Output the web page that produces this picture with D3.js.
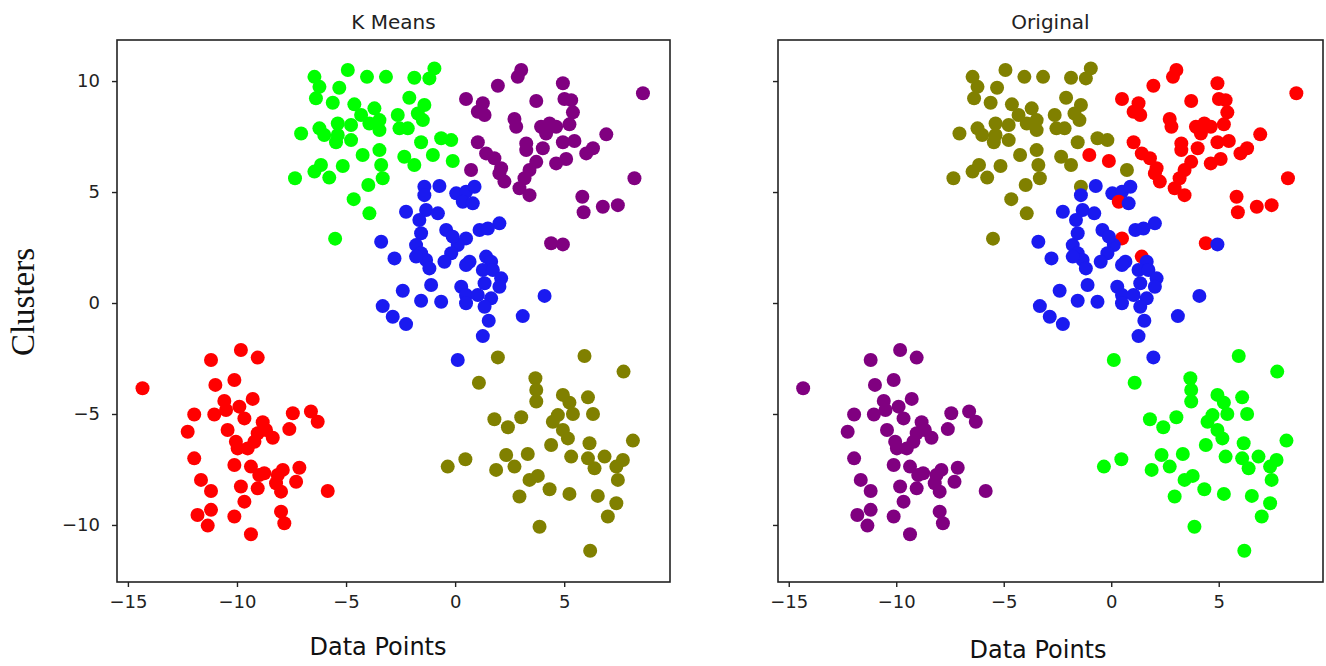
<!DOCTYPE html>
<html>
<head>
<meta charset="utf-8">
<script src="https://cdn.jsdelivr.net/npm/d3@7"></script>
<style>
  body { margin: 0; background: #fff; }
  svg { display: block; }
  .tick text { font-family: "DejaVu Sans", sans-serif; font-size: 18px; fill: #222; }
  .tick line { stroke: #222; stroke-width: 1.4; }
</style>
</head>
<body>
<svg width="1326" height="666"></svg>
<script>
// points of each K Means cluster, [x, y]
const greenPts = [[-6.45,10.19],[-4.92,10.5],[-4.04,10.19],[-3.17,10.19],[-1.87,10.15],[-0.95,10.57],[-1.18,10.12],[-6.22,9.74],[-5.31,9.7],[-6.38,9.22],[-5.61,9.02],[-4.62,8.95],[-3.7,8.77],[-4.31,8.47],[-2.1,9.25],[-1.41,8.92],[-1.71,8.54],[-2.63,8.47],[-1.48,8.24],[-5.38,8.09],[-4.77,8.02],[-3.93,8.09],[-3.47,8.24],[-3.47,7.79],[-7.06,7.64],[-6.22,7.87],[-6.0,7.57],[-5.38,7.57],[-2.55,7.87],[-2.17,7.87],[-5.46,7.24],[-4.77,7.34],[-4.24,6.67],[-3.47,6.89],[-1.56,7.24],[-0.64,7.42],[-0.18,7.34],[-2.33,6.59],[-1.87,6.22],[-1.02,6.67],[-0.11,6.4],[-3.39,6.22],[-5.15,6.17],[-6.15,6.22],[-6.45,5.92],[-5.77,5.65],[-7.34,5.62],[-3.32,5.62],[-3.98,5.32],[-4.65,4.68],[-3.93,4.04],[-5.5,2.9]];
const purplePts = [[3.03,10.5],[2.87,10.19],[1.96,9.79],[4.94,9.9],[8.61,9.45],[0.5,9.19],[1.27,9.0],[1.04,8.62],[1.35,8.47],[3.72,9.1],[5.01,9.19],[5.32,9.14],[5.4,8.59],[2.72,8.29],[2.8,7.94],[3.94,7.94],[4.33,8.09],[4.63,7.94],[4.17,7.64],[5.24,8.05],[6.93,7.6],[1.04,7.24],[3.26,7.19],[4.02,6.97],[4.94,7.24],[5.47,7.3],[6.32,6.97],[6.01,6.74],[1.42,6.74],[1.8,6.52],[3.26,6.89],[3.72,6.36],[4.63,6.29],[5.09,6.49],[0.73,5.99],[2.11,6.07],[2.26,5.47],[3.41,5.99],[3.18,5.62],[2.95,5.17],[3.41,4.86],[8.22,5.62],[5.83,4.79],[5.89,4.09],[6.77,4.34],[7.46,4.41],[4.4,2.69],[4.94,2.64],[2.03,5.84]];
const bluePts = [[-1.41,5.24],[-0.72,5.27],[-1.41,4.86],[0.05,4.94],[0.5,5.01],[0.89,5.24],[0.35,4.56],[0.81,4.49],[-2.25,4.11],[-1.33,4.19],[-0.79,4.04],[-1.64,3.74],[2.03,3.59],[-0.41,3.29],[-1.56,3.14],[1.12,3.29],[1.5,3.36],[-3.39,2.76],[0.5,2.91],[-1.79,2.61],[0.12,2.61],[-1.56,2.24],[-0.18,2.24],[-2.78,2.01],[-1.33,1.94],[-0.49,1.86],[0.66,1.86],[1.42,2.09],[1.65,1.86],[-1.18,1.56],[0.5,1.71],[1.27,1.49],[1.73,1.49],[2.11,1.11],[2.03,0.73],[1.35,0.89],[-1.1,0.81],[-2.4,0.55],[0.28,0.73],[0.5,0.36],[1.04,0.36],[1.65,0.21],[4.1,0.32],[-1.56,0.1],[-0.64,0.06],[0.5,-0.01],[1.35,-0.17],[-3.32,-0.14],[-2.86,-0.62],[-2.25,-0.95],[1.54,-0.8],[3.1,-0.59],[1.27,-1.49],[0.12,-2.57],[-1.79,2.09],[-0.11,2.99]];
const redPts = [[-9.82,-2.12],[-11.19,-2.57],[-9.05,-2.46],[-14.33,-3.84],[-10.99,-3.69],[-10.12,-3.47],[-10.58,-4.41],[-9.28,-4.32],[-9.89,-4.67],[-11.96,-5.02],[-11.04,-5.02],[-10.5,-4.82],[-9.66,-5.2],[-8.82,-5.37],[-7.44,-4.97],[-6.61,-4.89],[-6.3,-5.35],[-12.26,-5.8],[-10.43,-5.72],[-7.6,-5.68],[-9.05,-5.87],[-8.36,-6.07],[-9.2,-6.25],[-9.97,-6.55],[-9.51,-6.55],[-11.96,-7.0],[-10.12,-7.3],[-9.36,-7.37],[-8.75,-7.67],[-7.9,-7.52],[-7.14,-7.42],[-11.65,-7.97],[-9.82,-8.27],[-9.05,-8.35],[-8.21,-8.12],[-7.29,-8.05],[-7.98,-8.5],[-11.19,-8.47],[-5.84,-8.47],[-9.66,-8.95],[-11.81,-9.55],[-11.19,-9.32],[-10.12,-9.62],[-7.98,-9.4],[-7.83,-9.92],[-11.34,-10.03],[-9.36,-10.42],[-8.67,-5.72],[-10.05,-6.25],[-8.13,-7.75],[-8.98,-7.75]];
const olivePts = [[1.96,-2.45],[5.93,-2.39],[7.72,-3.09],[1.09,-3.59],[3.68,-3.39],[3.72,-3.92],[3.72,-4.44],[4.94,-4.14],[5.24,-4.49],[6.09,-4.25],[6.32,-5.0],[1.8,-5.24],[2.42,-5.6],[3.03,-5.15],[4.48,-5.35],[5.4,-5.0],[4.94,-5.72],[5.17,-6.1],[4.4,-6.4],[6.16,-6.32],[8.15,-6.2],[2.34,-6.85],[3.33,-6.8],[5.32,-6.92],[6.09,-7.0],[6.85,-6.92],[7.69,-7.07],[6.39,-7.45],[7.39,-7.37],[7.46,-7.97],[0.47,-7.04],[-0.34,-7.37],[1.88,-7.52],[2.72,-7.37],[3.41,-7.97],[3.79,-7.79],[4.33,-8.39],[5.24,-8.6],[2.95,-8.72],[6.54,-8.69],[7.39,-9.02],[7.0,-9.62],[3.87,-10.08],[6.19,-11.16],[4.71,-5.05]];

const clusters = [greenPts, purplePts, bluePts, redPts, olivePts];
const kmeansColors = ['#00ff00', '#800080', '#1a1af0', '#ff0000', '#808000'];
// colour of the true label for most points of each K Means cluster
const originalColors = ['#808000', '#ff0000', '#1a1af0', '#800080', '#00ff00'];
// points whose true label differs: [cluster, index, colour]
const originalExceptions = [
  [0, 39, '#ff0000'], [0, 40, '#ff0000'],
  [1, 34, '#808000'], [1, 47, '#1a1af0'],
  [2, 0, '#808000'], [2, 6, '#ff0000'], [2, 18, '#ff0000'], [2, 27, '#ff0000'], [2, 53, '#00ff00'],
  [4, 0, '#1a1af0']
];
const xTicks = [-15, -10, -5, 0, 5];
const yTicks = [-10, -5, 0, 5, 10];

const svg = d3.select('svg');
const plotTop = 40, plotBottom = 582;
const y = d3.scaleLinear().domain([-12.57, 11.85]).range([plotBottom, plotTop]);

const points = [];
clusters.forEach((pts, c) => pts.forEach((p, i) => {
  points.push({ x: p[0], y: p[1], km: kmeansColors[c], orig: originalColors[c], key: c + '-' + i });
}));
const exMap = new Map(originalExceptions.map(e => [e[0] + '-' + e[1], e[2]]));
points.forEach(d => { if (exMap.has(d.key)) d.orig = exMap.get(d.key); });

function panel(x0, x1, title, colorKey, showYLabels, xlabelX, xlabelY) {
  const x = d3.scaleLinear().domain([-15.5, 9.85]).range([x0, x1]);
  const g = svg.append('g');

  g.append('g').selectAll('circle')
    .data(points)
    .enter().append('circle')
    .attr('cx', d => x(d.x))
    .attr('cy', d => y(d.y))
    .attr('r', 7)
    .attr('fill', d => d[colorKey]);

  g.append('g')
    .attr('transform', `translate(0,${plotBottom})`)
    .call(d3.axisBottom(x).tickValues(xTicks).tickSize(5).tickPadding(8))
    .call(a => a.select('.domain').remove());

  g.append('g')
    .attr('transform', `translate(${x0},0)`)
    .call(d3.axisLeft(y).tickValues(yTicks).tickSize(5).tickPadding(12)
      .tickFormat(showYLabels ? d3.format('d') : ''))
    .call(a => a.select('.domain').remove());

  g.append('rect')
    .attr('x', x0).attr('y', plotTop)
    .attr('width', x1 - x0).attr('height', plotBottom - plotTop)
    .attr('fill', 'none').attr('stroke', '#222').attr('stroke-width', 1.6);

  g.append('text')
    .attr('x', (x0 + x1) / 2).attr('y', 29)
    .attr('text-anchor', 'middle')
    .style('font-family', '"DejaVu Sans", sans-serif').style('font-size', '20px').style('fill', '#222')
    .text(title);

  g.append('text')
    .attr('x', xlabelX).attr('y', xlabelY)
    .attr('text-anchor', 'middle')
    .style('font-family', '"DejaVu Sans", sans-serif').style('font-size', '24px').style('fill', '#111')
    .text('Data Points');
}

panel(117, 670, 'K Means', 'km', true, 378, 655);
panel(778, 1323, 'Original', 'orig', false, 1038, 658);

svg.append('text')
  .attr('transform', 'translate(34,302) rotate(-90)')
  .attr('text-anchor', 'middle')
  .style('font-family', '"Liberation Serif", "Times New Roman", serif').style('font-size', '33px').style('fill', '#111')
  .text('Clusters');
</script>
</body>
</html>
